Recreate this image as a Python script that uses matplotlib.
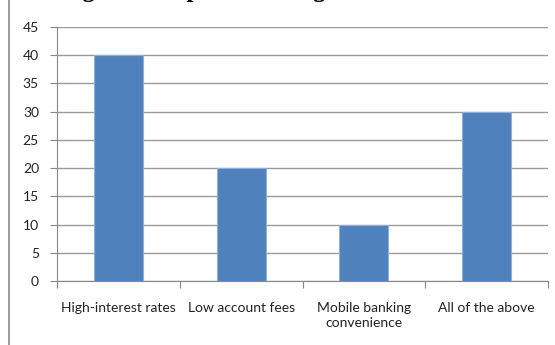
import matplotlib.pyplot as plt
from matplotlib.patches import Rectangle

plt.rcParams['font.family'] = ['Lato', 'DejaVu Sans']

# survey responses
categories = ['High-interest rates', 'Low account fees',
              'Mobile banking\nconvenience', 'All of the above']
responses = [40, 20, 10, 30]
y_ticks = [0, 5, 10, 15, 20, 25, 30, 35, 40, 45]

fig = plt.figure(figsize=(5.55, 3.45), dpi=100)
fig.patch.set_facecolor('white')

# chart area frame, runs off the right and bottom edges
frame = Rectangle((9 / 555, -0.2), 1.2, 1.2 + (1 - 10 / 345),
                  transform=fig.transFigure, fill=False,
                  edgecolor='#8a8a8a', linewidth=1.2, zorder=0)
fig.patches.append(frame)

# title sits above the top edge, only the descenders show
fig.text(0.03, 1 + 3.2 / 345, 'Strategies to Improve Savings Mobilization',
         ha='left', va='baseline', fontsize=18, fontweight='bold',
         family='Liberation Serif')

ax = fig.add_axes([57 / 555, 1 - 281 / 345, (548 - 57) / 555, (281 - 27) / 345])

x = range(len(categories))
ax.bar(x, responses, width=0.4, color='#4F81BD', edgecolor='#8DB0DC',
       linewidth=0.8, zorder=3)

ax.set_xlim(-0.5, len(categories) - 0.5)
ax.set_ylim(0, 45)
ax.set_yticks(y_ticks)
ax.yaxis.grid(True, color='#9a9a9a', linewidth=1.0, zorder=0)
ax.set_axisbelow(True)

# category boundaries carry the tick marks
ax.set_xticks([i - 0.5 for i in range(len(categories) + 1)])
ax.set_xticklabels([])
ax.set_xticks(list(x), minor=True)
ax.set_xticklabels(categories, minor=True, fontsize=10, color='#222222',
                   linespacing=1.35)
ax.tick_params(axis='x', which='minor', length=0, pad=15)
ax.tick_params(axis='x', which='major', length=5, color='#868686')
ax.tick_params(axis='y', length=5, color='#868686', labelsize=10,
               labelcolor='#222222', pad=8)

for side in ['top', 'right']:
    ax.spines[side].set_visible(False)
for side in ['left', 'bottom']:
    ax.spines[side].set_color('#868686')

fig.savefig('out.png', dpi=100, facecolor='white')
